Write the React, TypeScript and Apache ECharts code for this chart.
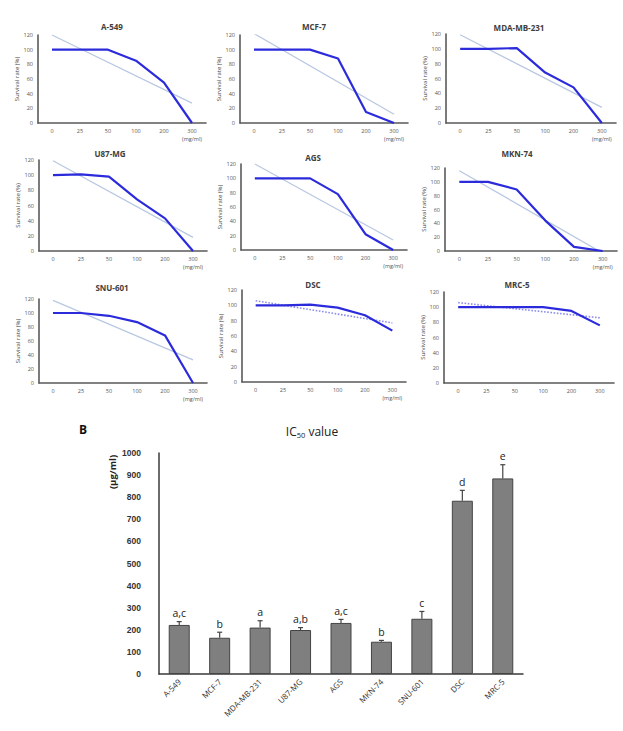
import React, { useEffect, useRef } from "react";
import * as echarts from "echarts";

// Dose levels (mg/ml) shared by every survival panel
const doses = ["0", "25", "50", "100", "200", "300"];

// Survival rate (%) per dose
const a549 = [100, 100, 100, 85, 55, 0];
const mcf7 = [100, 100, 100, 88, 15, 0];
const mdaMb231 = [100, 100, 101, 68, 48, 0];
const u87mg = [100, 101, 98, 68, 43, 0];
const ags = [100, 100, 100, 78, 22, 0];
const mkn74 = [100, 100, 89, 44, 6, 0];
const snu601 = [100, 100, 96, 87, 68, 0];
const dsc = [100, 100, 101, 97, 87, 67];
const mrc5 = [100, 100, 100, 100, 95, 76];

// Linear trend line end points (value at 0 and at 300 mg/ml)
const a549Trend = [120, 27];
const mcf7Trend = [122, 12];
const mdaMb231Trend = [119, 21];
const u87mgTrend = [119, 18];
const agsTrend = [120, 14];
const mkn74Trend = [116, -3];
const snu601Trend = [118, 33];
const dscTrend = [106, 77];
const mrc5Trend = [106, 86];

// IC50 panel
const ic50Lines = ["A-549", "MCF-7", "MDA-MB-231", "U87-MG", "AGS", "MKN-74", "SNU-601", "DSC", "MRC-5"];
const ic50Values = [222, 164, 210, 199, 231, 146, 250, 784, 885];
const ic50Errors = [15, 25, 31, 11, 16, 6, 33, 47, 62];
const ic50Groups = ["a,c", "b", "a", "a,b", "a,c", "b", "c", "d", "e"];

const panels = [
  { name: "A-549", values: a549, trend: a549Trend, dotted: false, unit: true },
  { name: "MCF-7", values: mcf7, trend: mcf7Trend, dotted: false, unit: true },
  { name: "MDA-MB-231", values: mdaMb231, trend: mdaMb231Trend, dotted: false, unit: true },
  { name: "U87-MG", values: u87mg, trend: u87mgTrend, dotted: false, unit: true },
  { name: "AGS", values: ags, trend: agsTrend, dotted: false, unit: true },
  { name: "MKN-74", values: mkn74, trend: mkn74Trend, dotted: false, unit: true },
  { name: "SNU-601", values: snu601, trend: snu601Trend, dotted: false, unit: true },
  { name: "DSC", values: dsc, trend: dscTrend, dotted: true, unit: true },
  { name: "MRC-5", values: mrc5, trend: mrc5Trend, dotted: true, unit: false },
];

// Plot boxes of the nine small panels (px)
const boxes = [
  { left: 38, top: 35, width: 168, height: 88, tx: 112, ty: 26 },
  { left: 240, top: 35, width: 168, height: 88, tx: 314, ty: 26 },
  { left: 446, top: 34, width: 170, height: 89, tx: 519, ty: 27 },
  { left: 39, top: 160, width: 168, height: 91, tx: 110, ty: 153 },
  { left: 241, top: 164, width: 166, height: 86, tx: 313, ty: 157 },
  { left: 445, top: 168, width: 172, height: 83, tx: 517, ty: 153 },
  { left: 39, top: 299, width: 168, height: 84, tx: 112, ty: 287 },
  { left: 242, top: 290, width: 164, height: 92, tx: 313, ty: 284 },
  { left: 444, top: 292, width: 170, height: 91, tx: 517, ty: 284 },
];

const barBox = { left: 159, top: 453, width: 364, height: 221 };

const FONT = "'Open Sans', 'Liberation Sans', sans-serif";
const axisColor = "#5a5a5a";

export default function App() {
  const ref = useRef<HTMLDivElement>(null);

  useEffect(() => {
    document.body.style.margin = "0";
    if (!ref.current) return;
    const chart = echarts.init(ref.current, undefined, { renderer: "svg" });

    const grids: any[] = boxes.map((b) => ({ left: b.left, top: b.top, width: b.width, height: b.height }));
    grids.push({ ...barBox });

    const xAxes: any[] = panels.map((_, i) => ({
      gridIndex: i,
      type: "category",
      data: doses,
      axisLine: { lineStyle: { color: axisColor, width: 1.6 } },
      axisTick: { show: false },
      axisLabel: { fontSize: 5.5, color: "#555", margin: 5, fontFamily: FONT },
      splitLine: { show: false },
    }));
    const yAxes: any[] = panels.map((_, i) => ({
      gridIndex: i,
      type: "value",
      min: 0,
      max: 120,
      interval: 20,
      name: "Survival rate (%)",
      nameLocation: "middle",
      nameGap: 15,
      nameTextStyle: { fontSize: 6, color: "#444", fontFamily: FONT },
      axisLine: { show: true, lineStyle: { color: axisColor, width: 1.6 } },
      axisTick: { show: false },
      axisLabel: { fontSize: 5.5, color: "#555", margin: 5, fontFamily: FONT },
      splitLine: { show: false },
    }));

    xAxes.push({
      gridIndex: 9,
      type: "category",
      data: ic50Lines,
      axisLine: { lineStyle: { color: "#3a3a3a", width: 1.5 } },
      axisTick: { show: false },
      axisLabel: { rotate: 45, interval: 0, fontSize: 8, color: "#333", margin: 6, fontFamily: FONT },
      splitLine: { show: false },
    });
    yAxes.push({
      gridIndex: 9,
      type: "value",
      min: 0,
      max: 1000,
      interval: 100,
      axisLine: { show: true, lineStyle: { color: "#3a3a3a", width: 1.5 } },
      axisTick: { show: false },
      axisLabel: {
        fontSize: 8.5,
        fontWeight: "bold",
        color: "#333",
        margin: 18,
        fontFamily: "'Liberation Sans', sans-serif",
        formatter: (v: number) => String(v),
      },
      splitLine: { show: false },
    });

    const series: any[] = [];
    panels.forEach((p, i) => {
      series.push({
        type: "line",
        xAxisIndex: i,
        yAxisIndex: i,
        data: [[0, p.trend[0]], [5, p.trend[1]]],
        symbol: "none",
        clip: true,
        lineStyle: p.dotted
          ? { color: "#8c8cec", width: 1.6, type: "dotted" }
          : { color: "#b9c8e2", width: 1.3 },
        z: 2,
      });
      series.push({
        type: "line",
        xAxisIndex: i,
        yAxisIndex: i,
        data: p.values,
        symbol: "none",
        lineStyle: { color: "#2b2bdc", width: 2.2 },
        z: 3,
      });
    });

    series.push({
      type: "bar",
      xAxisIndex: 9,
      yAxisIndex: 9,
      data: ic50Values,
      barWidth: 21,
      itemStyle: { color: "#7f7f7f", borderColor: "#444", borderWidth: 1 },
      z: 2,
    });

    series.push({
      type: "custom",
      xAxisIndex: 9,
      yAxisIndex: 9,
      data: ic50Values.map((v, i) => [i, v, ic50Errors[i]]),
      encode: { x: 0, y: 1 },
      z: 3,
      renderItem: (params: any, api: any) => {
        const idx = api.value(0);
        const val = api.value(1);
        const err = api.value(2);
        const base = api.coord([idx, val]);
        const top = api.coord([idx, val + err]);
        return {
          type: "group",
          children: [
            {
              type: "line",
              shape: { x1: base[0], y1: base[1], x2: top[0], y2: top[1] },
              style: { stroke: "#444", lineWidth: 1.2 },
            },
            {
              type: "line",
              shape: { x1: top[0] - 2.5, y1: top[1], x2: top[0] + 2.5, y2: top[1] },
              style: { stroke: "#444", lineWidth: 1.2 },
            },
            {
              type: "text",
              x: top[0],
              y: top[1] - 3,
              style: {
                text: ic50Groups[params.dataIndex],
                fill: "#222",
                fontSize: 10.5,
                fontFamily: FONT,
                align: "center",
                verticalAlign: "bottom",
              },
            },
          ],
        };
      },
    });

    const graphics: any[] = [];
    panels.forEach((p, i) => {
      const b = boxes[i];
      graphics.push({
        type: "text",
        x: b.tx,
        y: b.ty,
        style: {
          text: p.name,
          fill: "#404040",
          fontSize: 8,
          fontWeight: "bold",
          fontFamily: FONT,
          align: "center",
          verticalAlign: "middle",
        },
      });
      if (p.unit) {
        graphics.push({
          type: "text",
          x: b.left + (b.width * 11) / 12,
          y: b.top + b.height + 16,
          style: {
            text: "(mg/ml)",
            fill: "#555",
            fontSize: 5.5,
            fontFamily: FONT,
            align: "center",
            verticalAlign: "middle",
          },
        });
      }
    });

    graphics.push({
      type: "text",
      x: 79,
      y: 429,
      style: { text: "B", fill: "#111", fontSize: 12, fontWeight: "bold", fontFamily: FONT, verticalAlign: "middle" },
    });
    graphics.push({
      type: "text",
      x: 312,
      y: 431,
      style: {
        text: "{a|IC}{s|50}{a| value}",
        align: "center",
        verticalAlign: "middle",
        rich: {
          a: { fontSize: 12, fill: "#222", fontFamily: FONT, lineHeight: 16, verticalAlign: "middle" },
          s: { fontSize: 7.5, fill: "#222", fontFamily: FONT, lineHeight: 16, verticalAlign: "bottom", padding: [6, 0, 0, 0] },
        },
      },
    });
    graphics.push({
      type: "text",
      x: 112,
      y: 472,
      rotation: Math.PI / 2,
      style: {
        text: "(µg/ml)",
        fill: "#222",
        fontSize: 9.5,
        fontWeight: "bold",
        fontFamily: FONT,
        align: "center",
        verticalAlign: "middle",
      },
    });

    chart.setOption({
      animation: false,
      backgroundColor: "#ffffff",
      textStyle: { fontFamily: FONT },
      grid: grids,
      xAxis: xAxes,
      yAxis: yAxes,
      series,
      graphic: graphics,
    });

    return () => chart.dispose();
  }, []);

  return <div ref={ref} style={{ width: 623, height: 731 }} />;
}
